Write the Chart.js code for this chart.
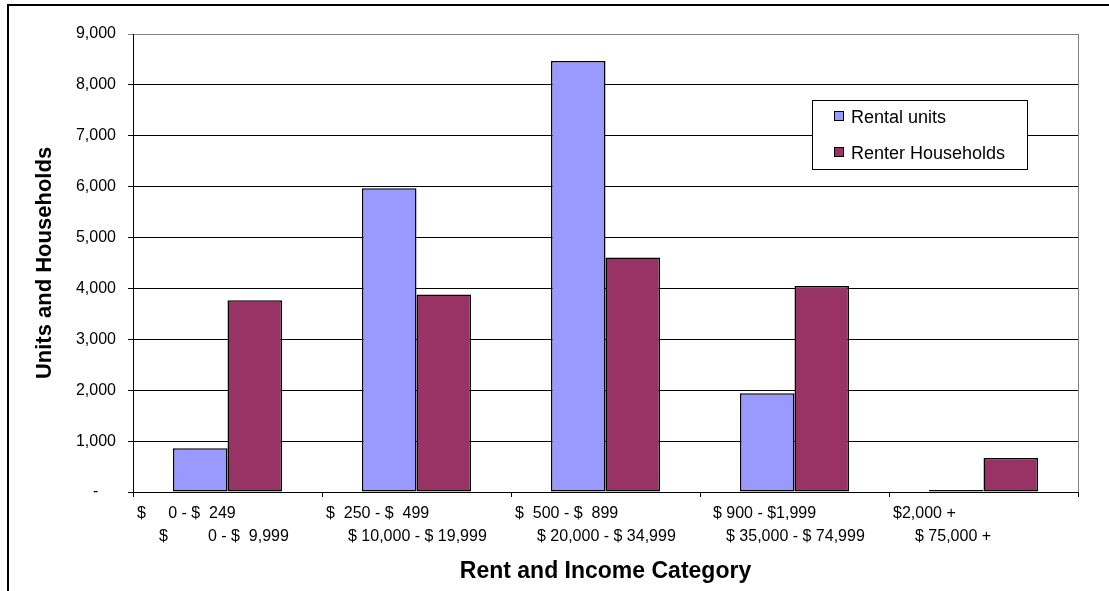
<!DOCTYPE html>
<html>
<head>
<meta charset="utf-8">
<title>Rent and Income Category</title>
<script src="https://cdn.jsdelivr.net/npm/chart.js@4.4.1/dist/chart.umd.min.js"></script>
<style>
    html, body { margin: 0; padding: 0; background: #fff; }
    #wrap { position: relative; width: 1109px; height: 591px; }
</style>
</head>
<body>
<div id="wrap"><canvas id="barChart"></canvas></div>
<script>
// category labels, first line is rent, second line is income
const rentLabels = ['$     0 - $  249', '$  250 - $  499', '$  500 - $  899', '  $ 900 - $1,999', '$2,000 +'];
const incomeLabels = ['$         0 - $  9,999', '$ 10,000 - $ 19,999', '$ 20,000 - $ 34,999', '$ 35,000 - $ 74,999', '$ 75,000 +'];

const seriesNames = ['Rental units', 'Renter Households'];
const rentalUnits = [860, 5970, 8470, 1940, 40];
const renterHouseholds = [3770, 3880, 4610, 4050, 670];

const yMin = 0;
const yMax = 9000;
const yStep = 1000;

const FONT = '"Liberation Sans", Arial, sans-serif';

const chartDecor = {
    id: 'chartDecor',
    beforeDraw(chart) {
        const ctx = chart.ctx;
        const a = chart.chartArea;
        ctx.save();
        ctx.fillStyle = '#fff';
        ctx.fillRect(0, 0, chart.width, chart.height);
        // outer frame (cut off on the right and bottom like the original)
        ctx.strokeStyle = '#000';
        ctx.lineWidth = 2;
        ctx.beginPath();
        ctx.moveTo(8, chart.height);
        ctx.lineTo(8, 5);
        ctx.lineTo(chart.width, 5);
        ctx.stroke();
        // grey plot area frame
        ctx.strokeStyle = '#808080';
        ctx.lineWidth = 1;
        ctx.strokeRect(Math.round(a.left) + 0.5, Math.round(a.top) + 0.5, Math.round(a.right - a.left), Math.round(a.bottom - a.top));
        ctx.restore();
    },
    afterDraw(chart) {
        const ctx = chart.ctx;
        const x = chart.scales.x;
        const w = x.width / rentLabels.length;
        ctx.save();
        ctx.font = '16px ' + FONT;
        ctx.fillStyle = '#000';
        ctx.textAlign = 'left';
        ctx.textBaseline = 'middle';
        rentLabels.forEach((lab, i) => {
            const left = x.getPixelForValue(i) - w / 2;
            ctx.fillText(lab, left + 4, x.top + 22);
            ctx.fillText(incomeLabels[i], left + 26, x.top + 45);
        });

        // legend box
        const lx = 812, ly = 100;
        ctx.fillStyle = '#fff';
        ctx.fillRect(lx, ly, 216, 70);
        ctx.strokeStyle = '#000';
        ctx.lineWidth = 1;
        ctx.strokeRect(lx + 0.5, ly + 0.5, 215, 69);
        ctx.font = '18px ' + FONT;
        ctx.textBaseline = 'alphabetic';
        chart.data.datasets.forEach((ds, i) => {
            const cy = ly + 16 + i * 36;
            ctx.fillStyle = ds.backgroundColor;
            ctx.fillRect(lx + 22, cy - 5, 10, 10);
            ctx.strokeRect(lx + 22.5, cy - 4.5, 9, 9);
            ctx.fillStyle = '#000';
            ctx.fillText(ds.label, lx + 39, cy + 6.5);
        });
        ctx.restore();
    }
};

new Chart(document.getElementById('barChart'), {
    type: 'bar',
    data: {
        labels: rentLabels.map((r, i) => [r, incomeLabels[i]]),
        datasets: [{
            label: seriesNames[0],
            data: rentalUnits,
            backgroundColor: '#9999FF',
            borderColor: '#000',
            borderWidth: 1.5,
            borderSkipped: false
        }, {
            label: seriesNames[1],
            data: renterHouseholds,
            backgroundColor: '#993366',
            borderColor: '#000',
            borderWidth: 1.5,
            borderSkipped: false
        }]
    },
    options: {
        responsive: true,
        maintainAspectRatio: false,
        animation: false,
        layout: {
            padding: { left: 20, top: 34, right: 31, bottom: 0 }
        },
        datasets: {
            bar: { categoryPercentage: 0.577, barPercentage: 1 }
        },
        plugins: {
            legend: { display: false },
            tooltip: { enabled: false }
        },
        scales: {
            x: {
                offset: true,
                grid: {
                    display: true,
                    offset: true,
                    drawOnChartArea: false,
                    drawTicks: true,
                    tickLength: 5,
                    color: '#000'
                },
                border: { color: '#000', width: 1 },
                ticks: { display: false },
                title: {
                    display: true,
                    text: 'Rent and Income Category',
                    color: '#000',
                    font: { family: FONT, size: 23, weight: 'bold' },
                    padding: { top: 0, bottom: 6 }
                },
                afterFit(scale) { scale.height = 99; }
            },
            y: {
                min: yMin,
                max: yMax,
                ticks: {
                    stepSize: yStep,
                    padding: 12,
                    color: '#000',
                    font: { family: FONT, size: 16 },
                    callback: v => v === 0 ? '-    ' : v.toLocaleString('en-US')
                },
                grid: {
                    color: c => c.tick && c.tick.value === yMax ? '#808080' : '#000',
                    tickLength: 5
                },
                border: { color: '#000', width: 1 },
                title: {
                    display: true,
                    text: 'Units and Households',
                    color: '#000',
                    font: { family: FONT, size: 22, weight: 'bold' },
                    padding: { top: 12, bottom: 0 }
                },
                afterFit(scale) { scale.width = 113; }
            }
        }
    },
    plugins: [chartDecor]
});
</script>
</body>
</html>
